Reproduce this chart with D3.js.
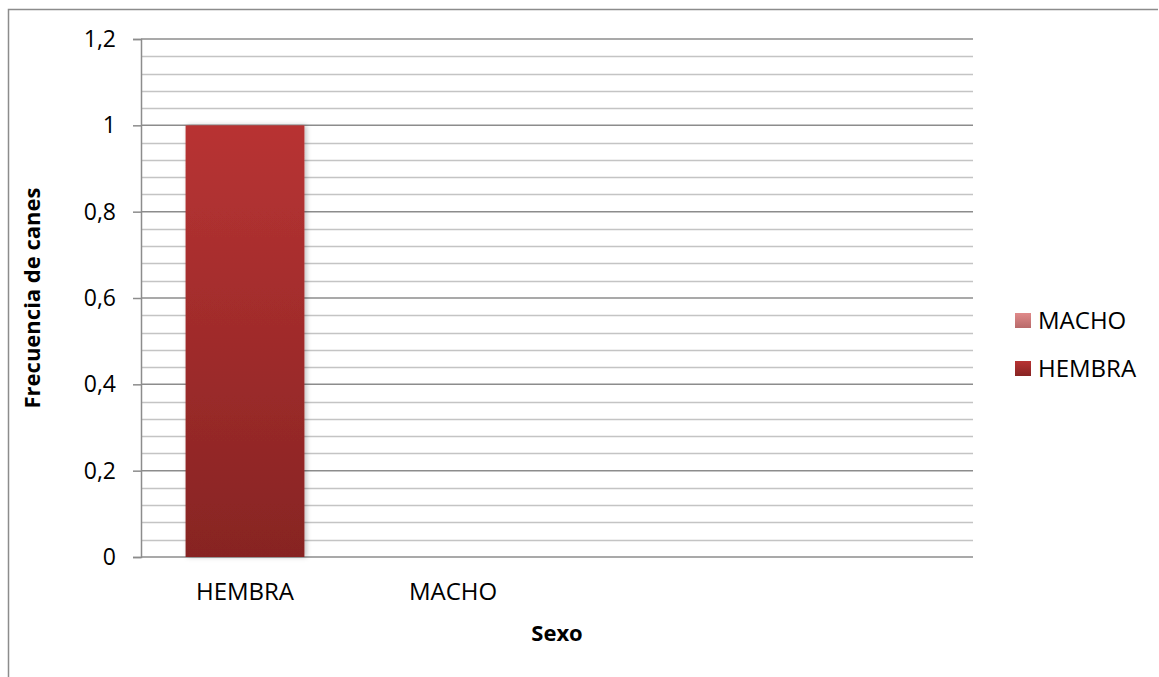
<!DOCTYPE html>
<html>
<head>
<meta charset="utf-8">
<script src="https://cdn.jsdelivr.net/npm/d3@7"></script>
<style>
  body { margin: 0; background: #fff; }
  svg { display: block; }
  svg text { font-family: "Open Sans", "Noto Sans", sans-serif; }
</style>
</head>
<body>
<svg id="chart" width="1159" height="677"></svg>
<script>
// Categories on the x axis (two unused slots keep the Excel-style spacing)
const categories = ["HEMBRA", "MACHO", " ", "  "];
// Series, stacked per category
const seriesNames = ["MACHO", "HEMBRA"];
const machoValues = [0, 0, 0, 0];
const hembraValues = [1, 0, 0, 0];
const yTicks = [0, 0.2, 0.4, 0.6, 0.8, 1, 1.2];
const yTickLabels = ["0", "0,2", "0,4", "0,6", "0,8", "1", "1,2"];
const xTitle = "Sexo";
const yTitle = "Frecuencia de canes";

const svg = d3.select("#chart");
const margin = { left: 141, right: 1159 - 973, top: 39, bottom: 677 - 557 };
const width = 1159 - margin.left - margin.right;
const height = 677 - margin.top - margin.bottom;

// Chart border (top and left edges)
svg.append("path")
  .attr("d", "M8.5,677 L8.5,9.5 L1158,9.5")
  .attr("fill", "none").attr("stroke", "#8c8c8c").attr("stroke-width", 1.5);

const defs = svg.append("defs");
const gradH = defs.append("linearGradient").attr("id", "gHembra")
  .attr("x1", 0).attr("y1", 0).attr("x2", 0).attr("y2", 1);
gradH.append("stop").attr("offset", "0%").attr("stop-color", "#b83333");
gradH.append("stop").attr("offset", "100%").attr("stop-color", "#872423");
const gradM = defs.append("linearGradient").attr("id", "gMacho")
  .attr("x1", 0).attr("y1", 0).attr("x2", 0).attr("y2", 1);
gradM.append("stop").attr("offset", "0%").attr("stop-color", "#e08a8a");
gradM.append("stop").attr("offset", "100%").attr("stop-color", "#b86a6a");
const shadow = defs.append("filter").attr("id", "shadow")
  .attr("x", "-20%").attr("y", "-5%").attr("width", "140%").attr("height", "110%");
shadow.append("feDropShadow").attr("dx", 2).attr("dy", 0).attr("stdDeviation", 2.5)
  .attr("flood-color", "#000").attr("flood-opacity", 0.25);

const fills = { MACHO: "url(#gMacho)", HEMBRA: "url(#gHembra)" };

const g = svg.append("g").attr("transform", `translate(${margin.left},${margin.top})`);

const x = d3.scaleBand().domain(categories).range([0, width])
  .paddingInner(0.75 / 1.75).paddingOuter(0.75 / 1.75 / 2);
const y = d3.scaleLinear().domain([0, 1.2]).range([height, 0]);

// Minor gridlines
const minor = d3.range(0, 1.2001, 0.04).filter(v => Math.abs(Math.round(v / 0.2) * 0.2 - v) > 1e-6);
g.append("g").selectAll("line").data(minor).join("line")
  .attr("x1", 0).attr("x2", width)
  .attr("y1", d => Math.round(y(d)) + 0.5).attr("y2", d => Math.round(y(d)) + 0.5)
  .attr("stroke", "#c4c4c4").attr("stroke-width", 1.5);

// Major gridlines + y axis
const yAxis = d3.axisLeft(y).tickValues(yTicks)
  .tickFormat((d, i) => yTickLabels[i]).tickSize(8).tickPadding(17);
const ya = g.append("g").call(yAxis).attr("font-family", null).attr("font-size", null);
ya.select(".domain").attr("stroke", "#8c8c8c").attr("stroke-width", 1.5);
ya.selectAll(".tick line").attr("stroke", "#8c8c8c").attr("stroke-width", 1.5);
ya.selectAll(".tick text").attr("font-size", 23).attr("fill", "#000");
g.append("g").selectAll("line").data(yTicks).join("line")
  .attr("x1", 0).attr("x2", width)
  .attr("y1", d => y(d)).attr("y2", d => y(d))
  .attr("stroke", "#8c8c8c").attr("stroke-width", 1.5);

// Stacked bars
const rows = categories.map((c, i) => ({ cat: c, MACHO: machoValues[i], HEMBRA: hembraValues[i] }));
const stack = d3.stack().keys(seriesNames)(rows);
g.append("g").selectAll("g").data(stack).join("g")
  .attr("fill", d => fills[d.key])
  .selectAll("rect").data(d => d.filter(p => p[1] - p[0] > 0)).join("rect")
  .attr("x", d => x(d.data.cat))
  .attr("width", x.bandwidth())
  .attr("y", d => y(d[1]))
  .attr("height", d => y(d[0]) - y(d[1]))
  .attr("filter", "url(#shadow)");

// X category labels
g.append("g").selectAll("text").data(categories).join("text")
  .attr("x", d => x(d) + x.bandwidth() / 2)
  .attr("y", height + 43)
  .attr("text-anchor", "middle")
  .attr("font-size", 24).attr("fill", "#000")
  .text(d => d.trim());

// Axis titles
svg.append("text").attr("x", 557).attr("y", 641)
  .attr("text-anchor", "middle").attr("font-size", 22).attr("font-weight", "bold")
  .text(xTitle);
svg.append("text")
  .attr("transform", "translate(40,298) rotate(-90)")
  .attr("text-anchor", "middle").attr("font-size", 22).attr("font-weight", "bold")
  .text(yTitle);

// Legend
const legend = svg.append("g").attr("transform", "translate(1015,313)");
const legendItems = legend.selectAll("g").data(seriesNames).join("g")
  .attr("transform", (d, i) => `translate(0,${i * 48})`);
legendItems.append("rect").attr("width", 16).attr("height", 15)
  .attr("fill", d => fills[d]);
legendItems.append("text").attr("x", 23).attr("y", 16)
  .attr("font-size", 24).attr("fill", "#000").text(d => d);
</script>
</body>
</html>
